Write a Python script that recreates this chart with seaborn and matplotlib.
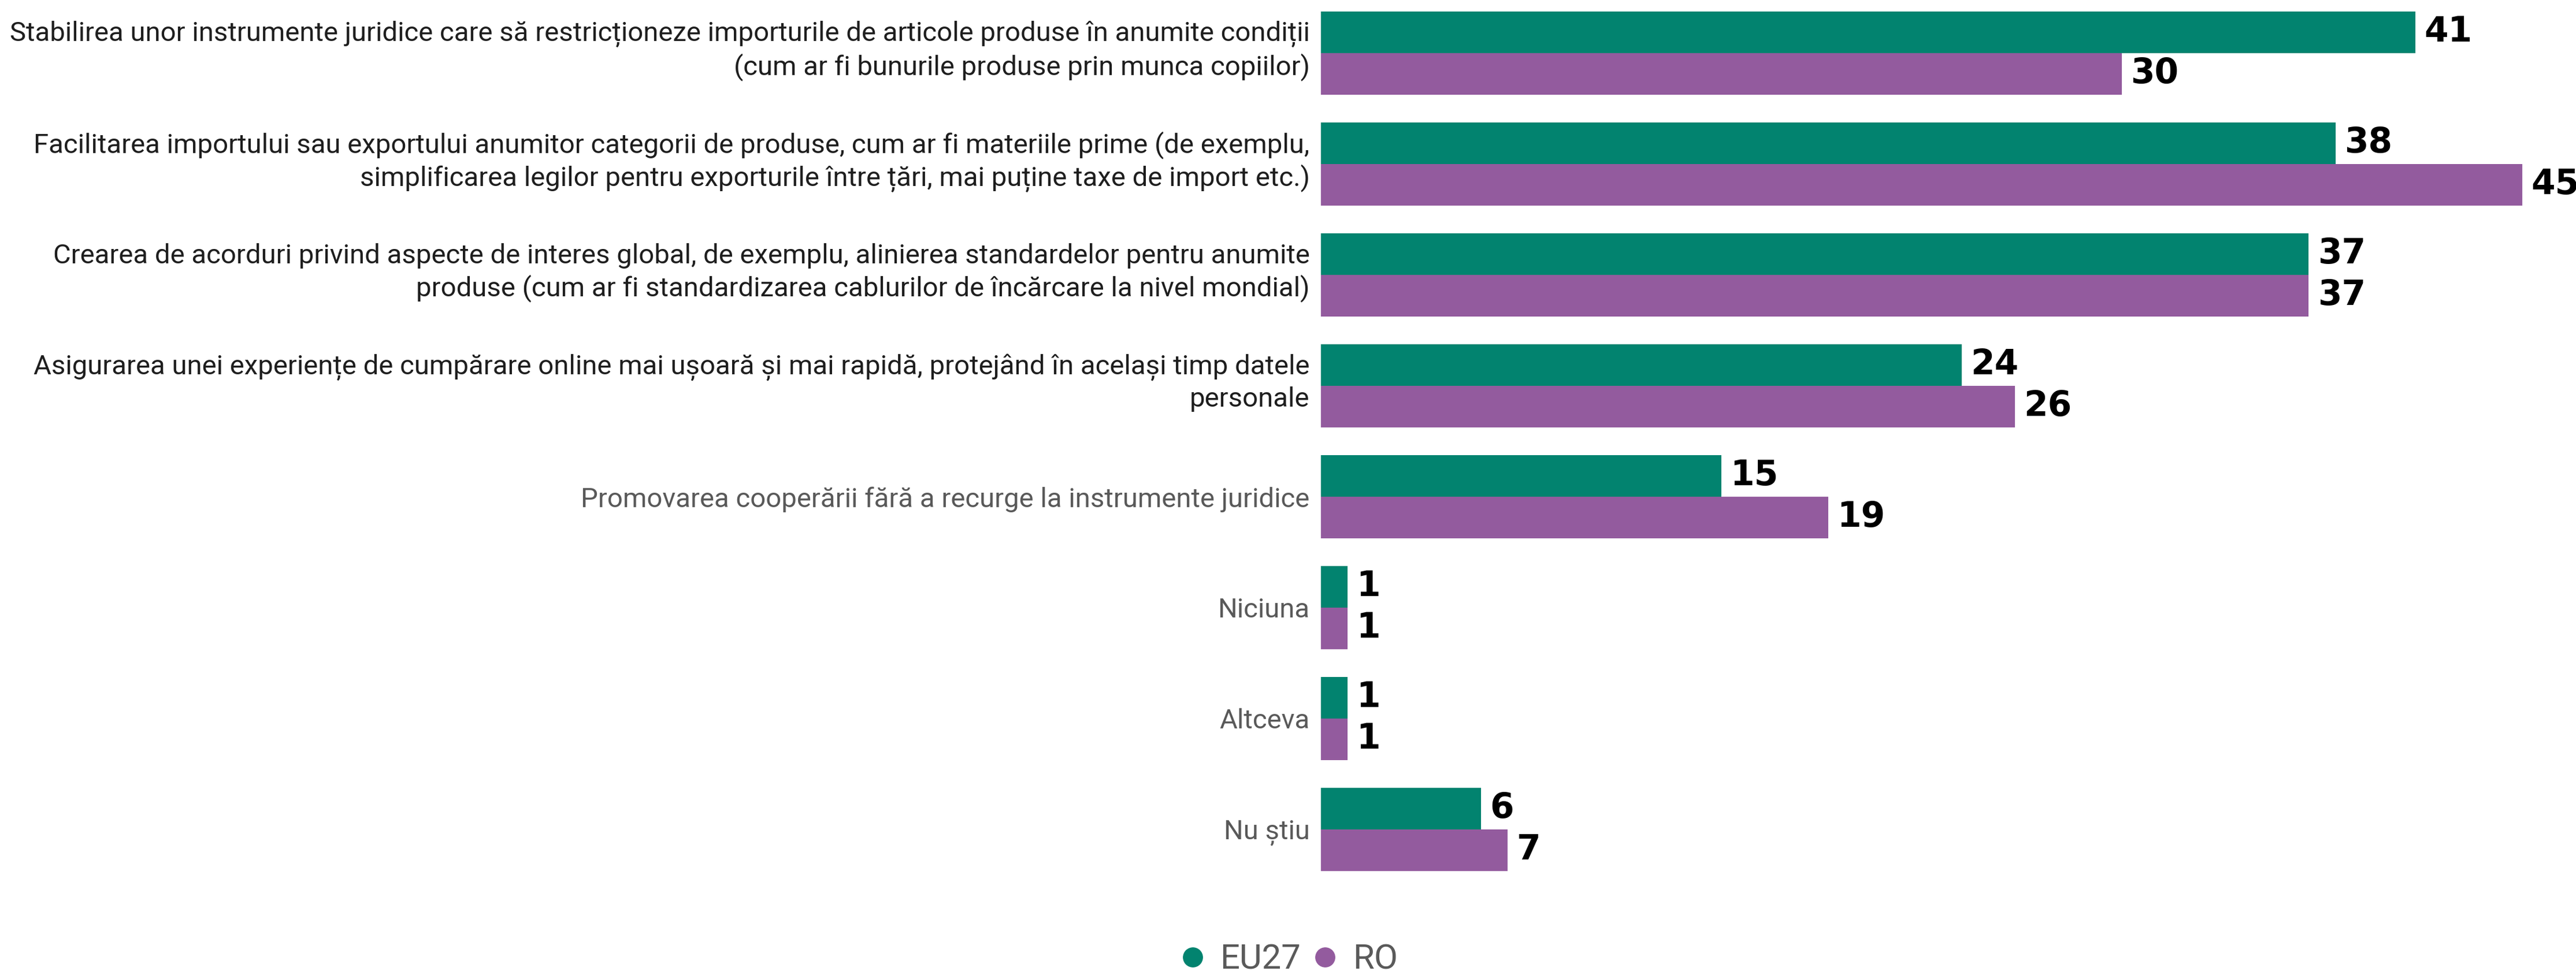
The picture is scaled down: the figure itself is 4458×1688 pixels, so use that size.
"""
Grouped horizontal bar chart, EU27 vs RO, survey answers.
"""

import pandas as pd
import seaborn as sns
from matplotlib import pyplot as plt
from matplotlib import transforms
from matplotlib.lines import Line2D

categories = [
    "Stabilirea unor instrumente juridice care să restricționeze importurile de articole produse în anumite condiții\n"
    "(cum ar fi bunurile produse prin munca copiilor)",
    "Facilitarea importului sau exportului anumitor categorii de produse, cum ar fi materiile prime (de exemplu,\n"
    "simplificarea legilor pentru exporturile între țări, mai puține taxe de import etc.)",
    "Crearea de acorduri privind aspecte de interes global, de exemplu, alinierea standardelor pentru anumite\n"
    "produse (cum ar fi standardizarea cablurilor de încărcare la nivel mondial)",
    "Asigurarea unei experiențe de cumpărare online mai ușoară și mai rapidă, protejând în același timp datele\n"
    "personale",
    "Promovarea cooperării fără a recurge la instrumente juridice",
    "Niciuna",
    "Altceva",
    "Nu știu",
]
eu27 = [41, 38, 37, 24, 15, 1, 1, 6]
ro = [30, 45, 37, 26, 19, 1, 1, 7]
series_names = ["EU27", "RO"]

if __name__ == "__main__":
    sns.set_style("white")
    plt.rcParams["font.family"] = ["Roboto", "DejaVu Sans"]

    colors = ["#02836f", "#935b9e"]
    label_colors = ["#1e1e1e"] * 4 + ["#595959"] * 4

    df = pd.DataFrame(
        {
            "Category": categories * 2,
            "Value": eu27 + ro,
            "Series": ["EU27"] * len(eu27) + ["RO"] * len(ro),
        }
    )

    W, H = 4458, 1688
    fig = plt.figure(figsize=(W / 100, H / 100), dpi=100)
    ax = fig.add_axes([2286 / W, 1 - 1536 / H, 1 - 2286 / W, 1536 / H])
    sns.barplot(
        data=df,
        x="Value",
        y="Category",
        hue="Series",
        hue_order=series_names,
        order=categories,
        orient="h",
        palette=colors,
        saturation=1,
        width=0.75,
        linewidth=0,
        legend=False,
        ax=ax,
    )
    ax.set_xlim(0, (W - 2286) / 46.2)
    ax.set_ylim(7.521, -0.479)
    ax.set_xticks([])
    ax.set_xlabel("")
    ax.set_ylabel("")
    ax.tick_params(axis="y", length=0, pad=14, labelsize=34)
    # two-line labels sit a little above the group centre in the original
    shift_up = transforms.ScaledTranslation(0, 10 / 72, fig.dpi_scale_trans)
    for lbl, c in zip(ax.get_yticklabels(), label_colors):
        lbl.set_color(c)
        lbl.set_linespacing(1.25)
        if "\n" in lbl.get_text():
            lbl.set_transform(lbl.get_transform() + shift_up)
    sns.despine(ax=ax, left=True, bottom=True)

    for cont in ax.containers:
        ax.bar_label(
            cont,
            fmt="%d",
            padding=11,
            fontsize=43,
            fontweight="bold",
            color="black",
            family="DejaVu Sans",
        )

    handles = [
        Line2D([], [], marker="o", ls="", color=c, markersize=24) for c in colors
    ]
    fig.legend(
        handles,
        series_names,
        loc="center",
        bbox_to_anchor=(0.4994, 0.016),
        ncol=2,
        frameon=False,
        fontsize=43,
        labelcolor="#5a5a5a",
        handletextpad=0.3,
        columnspacing=0.2,
        handlelength=1,
    )

    plt.savefig("out.png", dpi=100)
    plt.close()
